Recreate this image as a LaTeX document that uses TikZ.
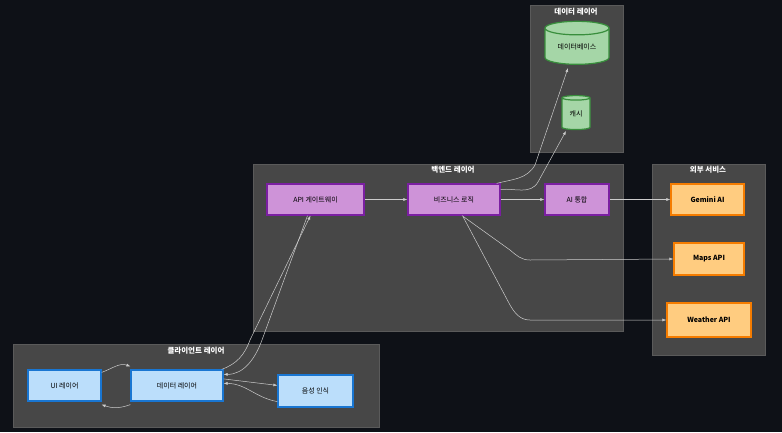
\documentclass[tikz,border=0pt]{standalone}
\usepackage{fontspec}
\setmainfont{Noto Sans CJK KR}
\usetikzlibrary{shapes.geometric,arrows.meta}
\definecolor{bg}{HTML}{0E1117}
\definecolor{clu}{HTML}{474747}
\definecolor{clb}{HTML}{5A5A5A}
\definecolor{ln}{HTML}{CCCCCC}
\begin{document}
\begin{tikzpicture}[x=1pt,y=-1pt,
 cl/.style={draw=clb,fill=clu,line width=0.8pt},
 ttl/.style={text=white,font=\fontsize{7.5}{8}\selectfont\bfseries},
 bx/.style={draw=#1!60!black,line width=1.2pt,font=\fontsize{7}{8}\selectfont,text=black,inner sep=0},
 blue/.style={fill={rgb,255:red,187;green,222;blue,251},draw={rgb,255:red,25;green,118;blue,210},line width=1.2pt,font=\fontsize{7}{8}\selectfont,inner sep=0},
 purp/.style={fill={rgb,255:red,206;green,147;blue,216},draw={rgb,255:red,123;green,31;blue,162},line width=1.2pt,font=\fontsize{7}{8}\selectfont,inner sep=0},
 grn/.style={cylinder,shape border rotate=90,aspect=0.35,fill={rgb,255:red,165;green,214;blue,167},draw={rgb,255:red,56;green,142;blue,60},line width=1.2pt,font=\fontsize{7}{8}\selectfont,inner sep=0},
 org/.style={fill={rgb,255:red,255;green,204;blue,128},draw={rgb,255:red,245;green,124;blue,0},line width=1.2pt,font=\fontsize{7}{8}\selectfont\bfseries,inner sep=0},
 ed/.style={draw=ln,line width=0.5pt,-{Latex[length=4pt,width=3pt]}}]
\fill[bg] (0,0) rectangle (782,432);
\useasboundingbox (0,0) rectangle (782,432);
% clusters
\draw[cl] (13,344) rectangle (379,427);
\node[ttl] (tc) at (196,351) {클라이언트 레이어};
\draw[cl] (253,164) rectangle (623,331);
\node[ttl] (tb) at (453,170) {백엔드 레이어};
\draw[cl] (530,5) rectangle (623,152);
\node[ttl] (td) at (576,12) {데이터 레이어};
\draw[cl] (652,164) rectangle (765,355);
\node[ttl] (te) at (708,170) {외부 서비스};
% nodes
\node[blue,minimum width=73pt,minimum height=31pt] (ui) at (64.5,385.5) {UI 레이어};
\node[blue,minimum width=92pt,minimum height=31pt] (dl) at (177,385.5) {데이터 레이어};
\node[blue,minimum width=75pt,minimum height=32pt] (vr) at (315.5,391) {음성 인식};
\node[purp,minimum width=97pt,minimum height=31pt] (gw) at (315.5,199.5) {API 게이트웨이};
\node[purp,minimum width=92pt,minimum height=31pt] (bl) at (454,199.5) {비즈니스 로직};
\node[purp,minimum width=64pt,minimum height=31pt] (ai) at (577,199.5) {AI 통합};
\node[grn,minimum width=64pt,minimum height=43pt] (db) at (577,46.5) {데이터베이스};
\node[grn,minimum width=28pt,minimum height=34pt] (ca) at (576,114) {캐시};
\node[org,minimum width=73pt,minimum height=31pt] (gm) at (707.5,199.5) {Gemini AI};
\node[org,minimum width=70pt,minimum height=32pt] (mp) at (709,259) {Maps API};
\node[org,minimum width=84pt,minimum height=34pt] (wt) at (709,320) {Weather API};
% edges
\draw[ed] (ui.north east) ++(0,3) to[out=20,in=160] ([yshift=3pt]dl.north west);
\draw[ed] ([yshift=-3pt]dl.south west) to[out=200,in=-20] ([yshift=-3pt]ui.south east);
\draw[ed] ([yshift=-9.5pt]dl.north east) -- ([yshift=-11pt]vr.north west);
\draw[ed] ([yshift=6pt]vr.south west) to[out=170,in=0] ([yshift=-14pt]dl.north east);
\draw[ed] ([xshift=-2pt]dl.north east) to[out=20,in=-110] (250,340) -- ([xshift=-5pt]gw.south);
\draw[ed] ([xshift=-8pt]gw.south) -- (262,340) to[out=-110,in=0] ([yshift=-5pt]dl.north east);
\draw[ed] (gw) -- (bl);
\draw[ed] (bl) -- (ai);
\draw[ed] (ai) -- (gm);
\draw[ed] ([xshift=-4pt]bl.north east) to[out=15,in=-120] (535,165) -- (568,68);
\draw[ed] ([yshift=-6pt]bl.north east) to[out=5,in=-120] (538,182) -- (566,131);
\draw[ed] ([xshift=8pt]bl.south) -- (510,250) to[out=-40,in=180] (530,260) -- (mp.west);
\draw[ed] ([xshift=9pt,yshift=-1pt]bl.south) -- (510,305) to[out=-60,in=180] (530,320) -- (wt.west);
\end{tikzpicture}
\end{document}
